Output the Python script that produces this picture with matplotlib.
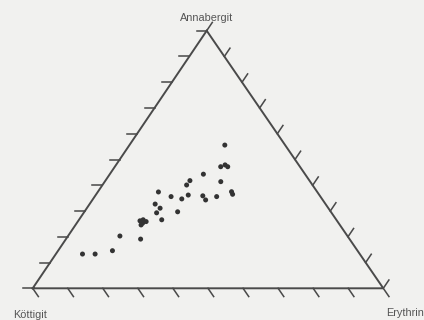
import numpy as np
import matplotlib
matplotlib.use("Agg")
import matplotlib.pyplot as plt

# Composition of the samples in percent (Annabergit, Erythrin); Köttigit is the rest
annabergit = [55.6, 47.9, 47.2, 47.2, 44.3, 41.8, 40.1, 41.4, 37.4, 35.6,
              36.2, 37.5, 36.5, 35.9, 35.6, 34.7, 34.3, 32.7, 31.1, 29.3,
              29.7, 26.6, 26.2, 26.6, 25.3, 25.9, 24.6, 20.3, 19.1, 14.6,
              13.3, 13.3]
erythrin = [27.2, 31.1, 32.2, 30.2, 26.7, 24.1, 24.0, 33.1, 17.3, 21.8,
            26.4, 38.1, 38.9, 30.7, 34.8, 25.3, 32.3, 18.7, 20.9, 20.8,
            26.6, 23.6, 17.6, 18.3, 18.8, 19.5, 18.7, 14.8, 21.3, 15.5,
            7.6, 11.2]
corner_labels = ["Köttigit", "Erythrin", "Annabergit"]

W, H, DPI = 424, 320, 100
fig = plt.figure(figsize=(W / DPI, H / DPI), dpi=DPI, facecolor="#f1f1ef")

# Triangle frame: Köttigit at (0,0), Erythrin at (1,0), Annabergit at (apex_x,1)
left_px, right_px, bottom_px, top_px = 32.7, 383.3, 288.3, 30.7
apex_x = (206.7 - left_px) / (right_px - left_px)
ax = fig.add_axes([left_px / W, 1 - bottom_px / H,
                   (right_px - left_px) / W, (bottom_px - top_px) / H])
ax.set_xlim(0, 1)
ax.set_ylim(0, 1)
ax.axis("off")
ax.set_facecolor("none")


def to_xy(a, e):
    a = np.asarray(a) / 100.0
    e = np.asarray(e) / 100.0
    return e + a * apex_x, a


line_col = "#4a4a4a"
lw = 1.4

K = np.array([0.0, 0.0])
E = np.array([1.0, 0.0])
A = np.array([apex_x, 1.0])
tri = np.array([K, E, A, K])
ax.plot(tri[:, 0], tri[:, 1], color=line_col, lw=lw, clip_on=False,
        solid_joinstyle="miter")

# Tick marks every 10 %, each drawn parallel to a neighbouring edge
ax_w_px = right_px - left_px
ax_h_px = bottom_px - top_px
tick_px = 10.0


def scaled_dir(v_px):
    v_px = np.asarray(v_px, float)
    v_px = v_px / np.hypot(*v_px) * tick_px
    return np.array([v_px[0] / ax_w_px, v_px[1] / ax_h_px])


d_bottom = scaled_dir([(right_px - 206.7), -(bottom_px - top_px)])   # along A->E, downward
d_left = scaled_dir([-1.0, 0.0])
d_right = scaled_dir([(206.7 - left_px), (bottom_px - top_px)])      # along K->A, upward

for t in np.linspace(0, 1, 11):
    p = K + t * (E - K)
    ax.plot([p[0], p[0] + d_bottom[0]], [p[1], p[1] + d_bottom[1]],
            color=line_col, lw=lw * 0.8, clip_on=False)
    p = K + t * (A - K)
    ax.plot([p[0], p[0] + d_left[0]], [p[1], p[1] + d_left[1]],
            color=line_col, lw=lw * 0.8, clip_on=False)
    p = E + t * (A - E)
    ax.plot([p[0], p[0] + d_right[0]], [p[1], p[1] + d_right[1]],
            color=line_col, lw=lw * 0.8, clip_on=False)

x, y = to_xy(annabergit, erythrin)
ax.scatter(x, y, s=13, color="#333333", edgecolors="none", zorder=3,
           clip_on=False)

font = dict(family="Liberation Sans", fontsize=7.8, color="#555555")
fig.text(13 / W, 1 - 315 / H, corner_labels[0], ha="left", va="center", **font)
fig.text(386.5 / W, 1 - 313 / H, corner_labels[1], ha="left", va="center", **font)
fig.text(207 / W, 1 - 18 / H, corner_labels[2], ha="center", va="center", **font)

fig.savefig("out.png", dpi=DPI, facecolor=fig.get_facecolor())
